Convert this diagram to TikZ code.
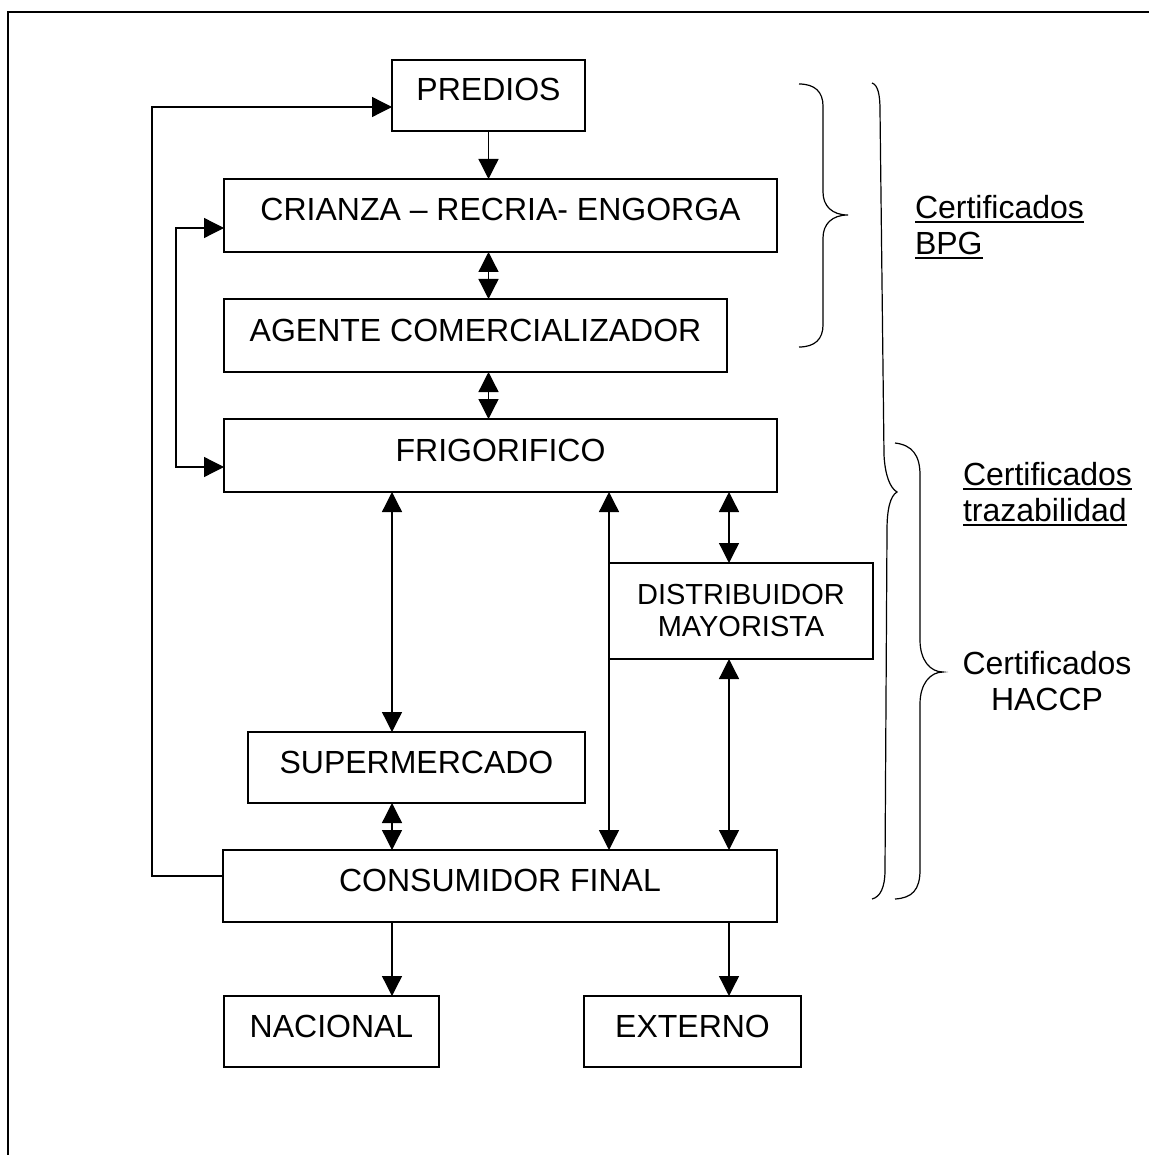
\documentclass[tikz,border=0pt]{standalone}
\usepackage{fontspec}
\setmainfont{Liberation Sans}
\usetikzlibrary{arrows.meta}
\newcommand{\myuline}[1]{\setbox0=\hbox{#1}\rlap{\vrule height -3pt depth 5pt width \wd0}\box0}
\begin{document}
\begin{tikzpicture}[x=1pt,y=-1pt,
  every node/.style={inner sep=0pt, outer sep=0pt},
  box/.style={draw, line width=1.3pt, rectangle, text height=24pt, text depth=13pt,
    font=\fontsize{32}{37}\selectfont},
  twoline/.style={draw, line width=1.3pt, rectangle, align=center,
    font=\fontsize{29}{32}\selectfont},
  note/.style={font=\fontsize{32}{36}\selectfont},
  conn/.style={line width=1.3pt, >={Triangle[width=20pt,length=20pt]}},
  arr/.style={conn, ->},
  dbl/.style={conn, <->},
  brace/.style={line width=1.2pt}
]
\useasboundingbox (0,0) rectangle (1149,1155);
% frame
\draw[line width=1.5pt] (8,1155) -- (8,12) -- (1149,12);

% boxes
\node[box, minimum width=193pt, minimum height=71pt] (predios) at (488.5,95.5) {PREDIOS};
\node[box, minimum width=553pt, minimum height=73pt] (crianza) at (500.5,215.5) {CRIANZA – RECRIA- ENGORGA};
\node[box, minimum width=503pt, minimum height=73pt] (agente) at (475.5,335.5) {AGENTE COMERCIALIZADOR};
\node[box, minimum width=553pt, minimum height=73pt] (frig) at (500.5,455.5) {FRIGORIFICO};
\node[twoline, minimum width=264pt, minimum height=96pt] (dist) at (741,611) {DISTRIBUIDOR\\MAYORISTA};
\node[box, minimum width=337pt, minimum height=71pt] (sup) at (416.5,767.5) {SUPERMERCADO};
\node[box, minimum width=554pt, minimum height=72pt] (cons) at (500,886) {CONSUMIDOR FINAL};
\node[box, minimum width=215pt, minimum height=71pt] (nac) at (331.5,1031.5) {NACIONAL};
\node[box, minimum width=217pt, minimum height=71pt] (ext) at (692.5,1031.5) {EXTERNO};

% side texts
\node[note, anchor=west, align=left] (tbpg) at (915,227) {\myuline{Certificados}\\\myuline{BPG}};
\node[note, anchor=west, align=left] (ttraz) at (963,494) {\myuline{Certificados}\\\myuline{trazabilidad}};
\node[note, align=center] (thaccp) at (1047,681) {Certificados\\HACCP};

% helper coordinates
\coordinate (cA) at (392,0);
\coordinate (cC) at (609,0);
\coordinate (cD) at (729,0);
\coordinate (cL) at (152,0);
\coordinate (cI) at (176,0);
\coordinate (yP) at (0,107);
\coordinate (yC) at (0,228);
\coordinate (yF) at (0,467);
\coordinate (yK) at (0,876);

% connectors
\draw[arr] (predios.south) -- (predios.south |- crianza.north);
\draw[dbl] (crianza.south -| predios.south) -- (agente.north -| predios.south);
\draw[dbl] (agente.south -| predios.south) -- (frig.north -| predios.south);
\draw[arr] (cons.west |- yK) -- (cL |- yK) -- (cL |- yP) -- (predios.west |- yP);
\draw[dbl] (crianza.west |- yC) -- (cI |- yC) -- (cI |- yF) -- (frig.west |- yF);
\draw[dbl] (frig.south -| cA) -- (sup.north -| cA);
\draw[dbl] (frig.south -| cC) -- (cons.north -| cC);
\draw[dbl] (frig.south -| cD) -- (dist.north -| cD);
\draw[dbl] (dist.south -| cD) -- (cons.north -| cD);
\draw[dbl] (sup.south -| cA) -- (cons.north -| cA);
\draw[arr] (cons.south -| cA) -- (nac.north -| cA);
\draw[arr] (cons.south -| cD) -- (ext.north -| cD);

% braces
\draw[brace] (799,84) .. controls (815,84) and (823,92) .. (823,106) -- (823,192)
  .. controls (823,206) and (832,215) .. (848,215)
  .. controls (832,215) and (823,224) .. (823,238) -- (823,325)
  .. controls (823,339) and (815,347) .. (799,347);
\draw[brace] (872,83) .. controls (878,85) and (880,95) .. (880,110) -- (884,455)
  .. controls (885,475) and (890,488) .. (897,492)
  .. controls (890,496) and (887,510) .. (887,530) -- (885,870)
  .. controls (885,888) and (880,897) .. (872,899);
\draw[brace] (895,443) .. controls (912,445) and (920,455) .. (920,475) -- (920,640)
  .. controls (920,660) and (930,672) .. (943,672)
  .. controls (930,672) and (920,684) .. (920,704) -- (920,870)
  .. controls (920,890) and (912,898) .. (895,899);
\end{tikzpicture}
\end{document}
